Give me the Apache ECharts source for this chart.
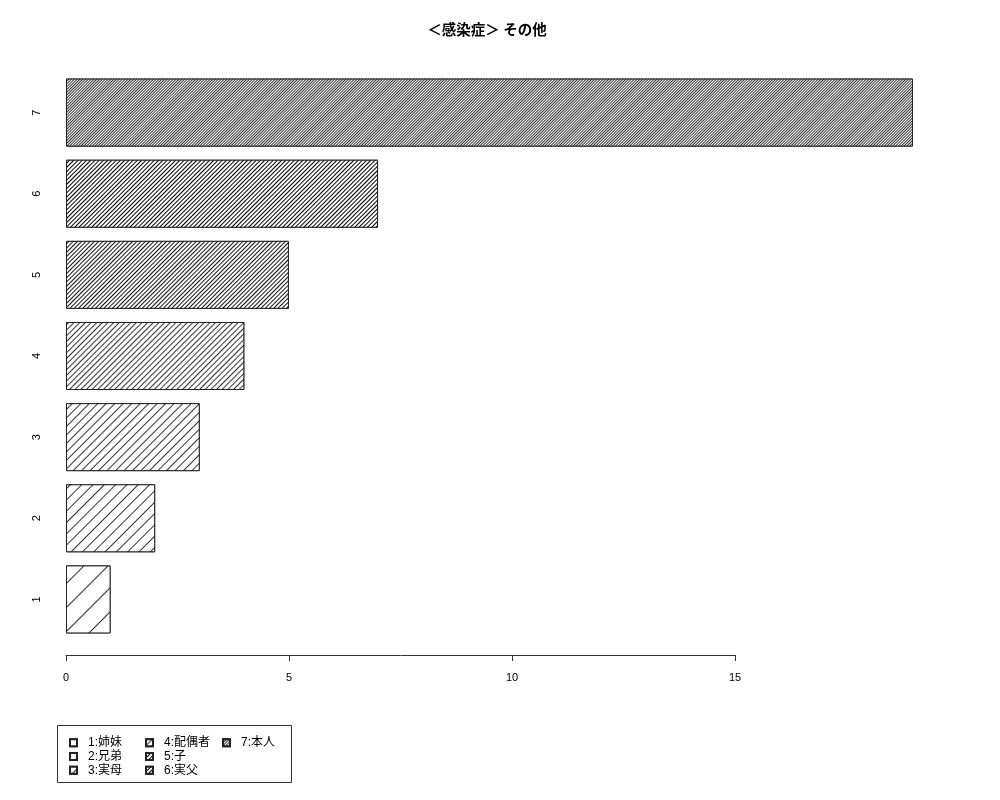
<!DOCTYPE html>
<html>
<head>
<meta charset="utf-8">
<script src="https://cdn.jsdelivr.net/npm/echarts@6/dist/echarts.min.js"></script>
<style>html,body{margin:0;padding:0;background:#fff}#c{width:1000px;height:800px}</style>
</head>
<body>
<div id="c"></div>
<script>
var titleText = '＜感染症＞ その他';
var categories = ['1', '2', '3', '4', '5', '6', '7'];
var values = [1, 2, 3, 4, 5, 7, 19];
var legendNames = ['1:姉妹', '2:兄弟', '3:実母', '4:配偶者', '5:子', '6:実父', '7:本人'];
var xTicks = [0, 5, 10, 15];
// hatch gap (px) for each bar, sparse -> dense
var hatchGaps = [16, 7, 5, 3, 2, 2, 1];
var hatchColors = ['#333', '#333', '#333', '#333', '#111', '#000', '#333'];

var chart = echarts.init(document.getElementById('c'), null, {renderer: 'canvas'});
var FONT = '"Liberation Sans", Arial, "Noto Sans CJK JP", sans-serif';

var series = legendNames.map(function (name, i) {
  return {
    name: name,
    type: 'bar',
    stack: 'all',
    xAxisIndex: 0,
    yAxisIndex: 0,
    barWidth: 68,
    silent: true,
    itemStyle: {
      color: '#ffffff',
      borderColor: '#222',
      borderWidth: 1,
      decal: {
        symbol: 'rect',
        symbolSize: 1,
        color: hatchColors[i],
        backgroundColor: '#fff',
        dashArrayX: [1, 0],
        dashArrayY: [1, hatchGaps[i]],
        rotation: -Math.PI / 4
      }
    },
    data: categories.map(function (c, j) { return j === i ? values[i] : '-'; })
  };
});

var legendCommon = {
  orient: 'vertical',
  top: 736,
  padding: 0,
  itemWidth: 7,
  itemHeight: 7,
  itemGap: 0,
  icon: 'rect',
  selectedMode: false,
  textStyle: {fontSize: 12, color: '#000', fontFamily: FONT, lineHeight: 13.7, padding: [0, 0, 0, 6]}
};

var option = {
  animation: false,
  backgroundColor: '#fff',
  title: {
    text: titleText,
    left: 482,
    textAlign: 'center',
    top: 17,
    textStyle: {fontSize: 14.5, fontWeight: 'bold', color: '#000', fontFamily: '"Noto Sans CJK JP", sans-serif'}
  },
  legend: [
    Object.assign({}, legendCommon, {left: 69, data: legendNames.slice(0, 3)}),
    Object.assign({}, legendCommon, {left: 145, data: legendNames.slice(3, 6)}),
    Object.assign({}, legendCommon, {left: 222, data: legendNames.slice(6, 7)})
  ],
  grid: [
    {left: 66, right: 87, top: 72, bottom: 160},
    {left: 66, width: 669, top: 72, bottom: 160}
  ],
  xAxis: [
    {gridIndex: 0, type: 'value', min: 0, max: 19, show: false},
    {
      gridIndex: 1, type: 'value', min: xTicks[0], max: xTicks[xTicks.length - 1], interval: 5,
      position: 'bottom', offset: 15,
      axisLine: {show: true, lineStyle: {color: '#333', width: 1}},
      axisTick: {show: true, length: 6, lineStyle: {color: '#333'}},
      axisLabel: {fontSize: 11, color: '#000', margin: 17, fontFamily: FONT},
      splitLine: {show: false}
    }
  ],
  yAxis: [
    {
      gridIndex: 0, type: 'category', data: categories,
      axisLine: {show: false}, axisTick: {show: false},
      axisLabel: {rotate: 90, fontSize: 11, color: '#000', margin: 24, fontFamily: FONT}
    },
    {gridIndex: 1, type: 'category', data: categories, show: false}
  ],
  graphic: [
    {type: 'rect', shape: {x: 57.5, y: 725.5, width: 234, height: 57}, style: {fill: 'none', stroke: '#333', lineWidth: 1}, silent: true}
  ],
  series: series
};
chart.setOption(option);
</script>
</body>
</html>
